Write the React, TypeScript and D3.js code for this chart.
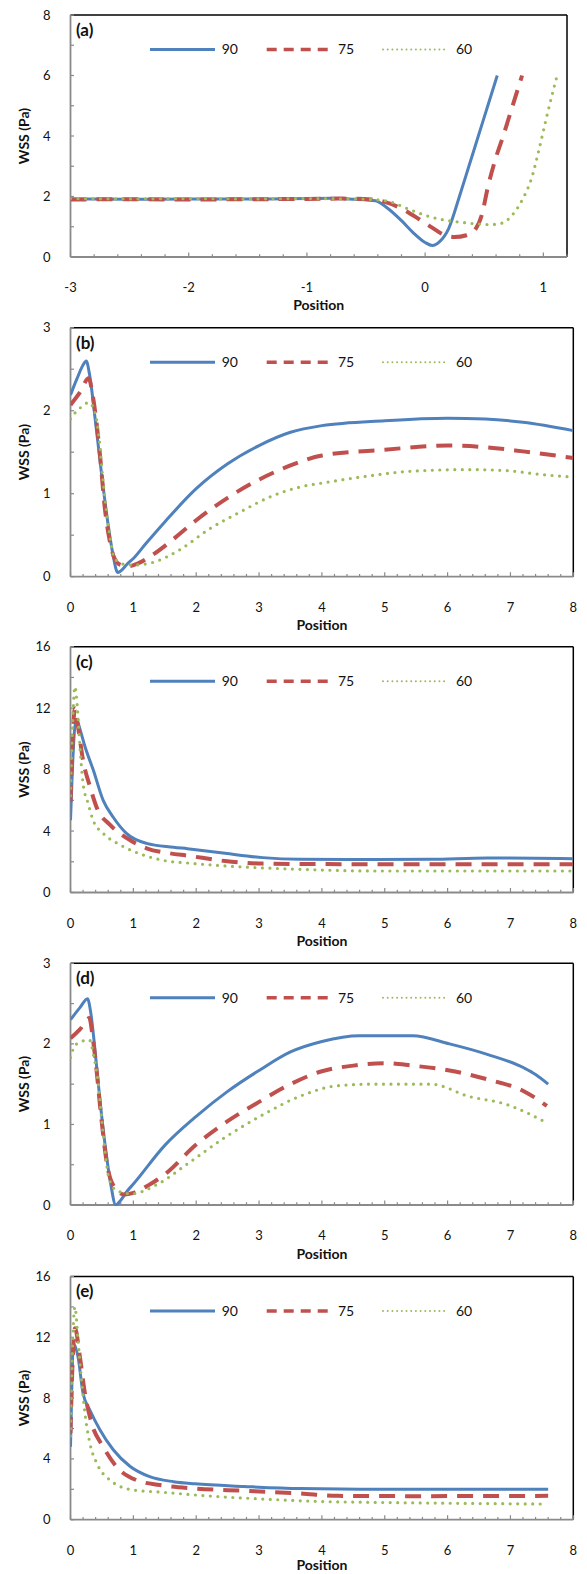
import React from 'react';
import * as d3 from 'd3';

type Pt = [number, number];

// ---------------- DATA ----------------
const seriesNames = ['90', '75', '60'];
const panelLabels = ['(a)', '(b)', '(c)', '(d)', '(e)'];
const xDomains: [number, number][] = [[-3, 1.2], [0, 8], [0, 8], [0, 8], [0, 8]];
const yMaxes = [8, 3, 16, 3, 16];
const yMajorSteps = [2, 1, 4, 1, 4];
const yMinorSteps = [1, 0.5, 2, 0.5, 2];
const xMajorStep = 1;
const xMinorStep = 0.2;

const a90: Pt[] = [[-3, 1.92], [-2.5, 1.91], [-2, 1.92], [-1.5, 1.92], [-1, 1.93], [-0.8, 1.94], [-0.6, 1.91], [-0.42, 1.86], [-0.32, 1.62], [-0.2, 1.2], [-0.1, 0.8], [0, 0.48], [0.06, 0.38], [0.12, 0.5], [0.2, 0.95], [0.29, 2.0], [0.37, 3.0], [0.45, 4.0], [0.53, 5.0], [0.61, 6.0]];
const a75: Pt[] = [[-3, 1.9], [-2.5, 1.91], [-2, 1.9], [-1.5, 1.91], [-1, 1.92], [-0.7, 1.93], [-0.45, 1.9], [-0.35, 1.83], [-0.2, 1.6], [-0.05, 1.25], [0.06, 0.97], [0.15, 0.75], [0.25, 0.66], [0.35, 0.72], [0.43, 0.95], [0.48, 1.4], [0.53, 2.3], [0.6, 3.3], [0.66, 4.0], [0.74, 5.0], [0.82, 6.0]];
const a60: Pt[] = [[-3, 1.93], [-2.5, 1.92], [-2, 1.93], [-1.5, 1.92], [-1, 1.93], [-0.6, 1.92], [-0.45, 1.9], [-0.3, 1.83], [-0.15, 1.6], [0, 1.38], [0.15, 1.23], [0.3, 1.15], [0.45, 1.09], [0.55, 1.07], [0.65, 1.12], [0.75, 1.45], [0.83, 1.95], [0.9, 2.6], [0.96, 3.5], [1.02, 4.5], [1.07, 5.3], [1.12, 6.05]];

const b90: Pt[] = [[0, 2.19], [0.1, 2.38], [0.2, 2.55], [0.25, 2.6], [0.3, 2.45], [0.4, 1.85], [0.5, 1.2], [0.6, 0.62], [0.68, 0.25], [0.75, 0.05], [0.8, 0.07], [0.9, 0.15], [1.0, 0.22], [1.2, 0.4], [1.5, 0.66], [2.0, 1.06], [2.5, 1.36], [3.0, 1.58], [3.5, 1.74], [4.0, 1.82], [5.0, 1.88], [6.0, 1.91], [6.6, 1.9], [7.2, 1.86], [8.0, 1.76]];
const b75: Pt[] = [[0, 2.07], [0.15, 2.22], [0.29, 2.39], [0.35, 2.2], [0.46, 1.54], [0.55, 0.8], [0.62, 0.45], [0.7, 0.22], [0.8, 0.14], [0.92, 0.125], [1.1, 0.17], [1.3, 0.26], [1.6, 0.43], [2.0, 0.68], [2.5, 0.95], [3.0, 1.17], [3.5, 1.34], [4.0, 1.46], [5.0, 1.53], [6.0, 1.58], [6.6, 1.56], [7.2, 1.51], [8.0, 1.43]];
const b60: Pt[] = [[0, 1.9], [0.08, 1.98], [0.2, 2.06], [0.29, 2.1], [0.4, 1.95], [0.45, 1.7], [0.52, 1.14], [0.61, 0.58], [0.7, 0.22], [0.85, 0.15], [1.0, 0.14], [1.3, 0.17], [1.75, 0.33], [2.2, 0.57], [2.7, 0.78], [3.2, 0.97], [3.65, 1.08], [4.1, 1.14], [4.8, 1.22], [5.4, 1.27], [6.3, 1.29], [6.9, 1.28], [7.5, 1.23], [8.0, 1.2]];

const c90: Pt[] = [[0, 4.7], [0.03, 8.0], [0.07, 10.8], [0.1, 11.2], [0.16, 10.5], [0.23, 9.5], [0.36, 8.0], [0.52, 6.0], [0.68, 4.9], [0.89, 3.85], [1.21, 3.2], [1.64, 2.95], [1.86, 2.85], [2.46, 2.55], [3.06, 2.27], [3.65, 2.16], [4.84, 2.14], [5.74, 2.16], [6.63, 2.25], [8.0, 2.2]];
const c75: Pt[] = [[0, 5.9], [0.03, 9.5], [0.07, 12.0], [0.12, 10.8], [0.2, 8.6], [0.31, 6.9], [0.42, 5.5], [0.63, 4.4], [0.95, 3.4], [1.21, 2.88], [1.58, 2.55], [1.86, 2.4], [2.46, 2.05], [3.06, 1.88], [4.84, 1.84], [8.0, 1.84]];
const c60: Pt[] = [[0, 6.3], [0.03, 10.5], [0.07, 13.4], [0.11, 12.0], [0.15, 9.5], [0.2, 7.1], [0.28, 5.8], [0.36, 4.7], [0.52, 3.85], [0.79, 3.1], [1.16, 2.44], [1.53, 2.05], [1.86, 1.92], [2.46, 1.73], [3.65, 1.51], [4.84, 1.4], [8.0, 1.4]];

const d90: Pt[] = [[0, 2.3], [0.15, 2.45], [0.27, 2.56], [0.32, 2.4], [0.38, 2.0], [0.47, 1.29], [0.55, 0.75], [0.64, 0.26], [0.72, 0.0], [0.8, 0.06], [0.91, 0.18], [1.0, 0.26], [1.5, 0.74], [2.0, 1.1], [2.5, 1.41], [3.0, 1.67], [3.5, 1.9], [4.0, 2.03], [4.6, 2.1], [5.44, 2.1], [6.03, 2.0], [6.63, 1.87], [7.22, 1.7], [7.4, 1.62], [7.6, 1.5]];
const d75: Pt[] = [[0, 2.07], [0.15, 2.18], [0.3, 2.32], [0.35, 2.1], [0.4, 1.78], [0.49, 1.08], [0.58, 0.51], [0.67, 0.26], [0.85, 0.13], [1.0, 0.15], [1.25, 0.25], [1.5, 0.38], [2.0, 0.75], [2.5, 1.04], [3.0, 1.28], [3.5, 1.5], [4.0, 1.66], [4.5, 1.73], [5.0, 1.76], [5.44, 1.73], [6.03, 1.67], [6.63, 1.56], [7.22, 1.41], [7.58, 1.23]];
const d60: Pt[] = [[0, 1.83], [0.08, 1.99], [0.3, 2.05], [0.37, 1.85], [0.43, 1.58], [0.52, 0.88], [0.61, 0.34], [0.73, 0.18], [0.97, 0.14], [1.39, 0.26], [1.86, 0.51], [2.46, 0.84], [3.06, 1.12], [3.65, 1.35], [4.25, 1.48], [4.84, 1.5], [5.74, 1.5], [6.33, 1.35], [6.93, 1.25], [7.58, 1.02]];

const e90: Pt[] = [[0, 4.8], [0.02, 8.5], [0.045, 11.6], [0.12, 10.7], [0.2, 8.3], [0.31, 7.2], [0.47, 5.9], [0.68, 4.6], [0.95, 3.5], [1.26, 2.83], [1.64, 2.5], [1.98, 2.36], [2.76, 2.19], [3.65, 2.05], [4.84, 2.01], [7.6, 2.01]];
const e75: Pt[] = [[0, 5.7], [0.03, 10.0], [0.07, 12.6], [0.15, 10.7], [0.23, 8.3], [0.34, 6.3], [0.52, 4.8], [0.73, 3.5], [1.05, 2.6], [1.42, 2.28], [1.98, 2.05], [2.76, 1.9], [3.65, 1.73], [4.25, 1.57], [5.44, 1.55], [7.6, 1.57]];
const e60: Pt[] = [[0, 5.5], [0.03, 11.0], [0.07, 14.0], [0.12, 11.8], [0.18, 9.0], [0.23, 7.0], [0.31, 5.0], [0.42, 3.7], [0.63, 2.6], [1.0, 1.95], [1.42, 1.82], [2.16, 1.57], [3.06, 1.36], [3.95, 1.2], [4.84, 1.14], [7.58, 1.03]];

const panelSeries: Pt[][][] = [
  [a90, a75, a60],
  [b90, b75, b60],
  [c90, c75, c60],
  [d90, d75, d60],
  [e90, e75, e60],
];

// ---------------- LAYOUT / STYLE ----------------
const W = 587;
const H = 1574;
const LEFT = 70.5;
const layout = [
  { top: 15, bottom: 257, right: 567, posOff: 48 },
  { top: 327.7, bottom: 576.7, right: 573.3, posOff: 48.3 },
  { top: 646.7, bottom: 892.5, right: 573.3, posOff: 49 },
  { top: 963.3, bottom: 1205, right: 573.3, posOff: 49.3 },
  { top: 1276.5, bottom: 1519.7, right: 573.3, posOff: 45.5 },
];
const FONT = "Lato, 'Open Sans', 'Liberation Sans', sans-serif";
const colors = ['#4F81BD', '#C0504D', '#9BBB59'];
const plotStyles = [
  { w: 3, dash: undefined as string | undefined, cap: 'butt' },
  { w: 4, dash: '16,10', cap: 'butt' },
  { w: 3.2, dash: '0,7.5', cap: 'round' },
];
const legendStyles = [
  { w: 3, dash: undefined as string | undefined, cap: 'butt' },
  { w: 3.5, dash: '10,7', cap: 'butt' },
  { w: 2, dash: '0,4.7', cap: 'round' },
];
const legendLines = [[150, 215], [266.7, 329], [383, 447]];
const legendTextX = [221.7, 338, 456];

function rangeInc(a: number, b: number, s: number) {
  const n = Math.round((b - a) / s);
  return d3.range(n + 1).map((i) => +(a + i * s).toFixed(6));
}

function Panel({ idx }: { idx: number }) {
  const L = layout[idx];
  const x = d3.scaleLinear().domain(xDomains[idx]).range([LEFT, L.right]);
  const y = d3.scaleLinear().domain([0, yMaxes[idx]]).range([L.bottom, L.top]);
  const line = d3
    .line<Pt>()
    .x((d) => x(d[0]))
    .y((d) => y(d[1]))
    .curve(d3.curveMonotoneX);
  const [x0, x1] = xDomains[idx];
  const xMinor = rangeInc(x0, x1, xMinorStep);
  const xMajor = rangeInc(Math.ceil(x0), Math.floor(x1), xMajorStep);
  const yMinor = rangeInc(0, yMaxes[idx], yMinorSteps[idx]);
  const yMajor = rangeInc(0, yMaxes[idx], yMajorSteps[idx]);
  const clipId = `clip-${idx}`;
  const legY = L.top + 34.5;
  const axisGray = '#8a8a8a';
  return (
    <g>
      <defs>
        <clipPath id={clipId}>
          <rect x={LEFT} y={L.top - 3} width={L.right - LEFT} height={L.bottom - L.top + 4} />
        </clipPath>
      </defs>
      <line x1={LEFT} x2={L.right} y1={L.top} y2={L.top} stroke="#000" strokeWidth={1.5} />
      <line x1={L.right} x2={L.right} y1={L.top} y2={L.bottom} stroke="#000" strokeWidth={1.5} />
      {xMinor.map((v) => (
        <line key={'xm' + v} x1={x(v)} x2={x(v)} y1={L.bottom} y2={L.bottom - (Math.abs(v - Math.round(v)) < 1e-6 ? 4.5 : 2.8)} stroke={axisGray} strokeWidth={1.2} />
      ))}
      {yMinor.map((v) => (
        <line key={'ym' + v} x1={LEFT} x2={LEFT + 3.5} y1={y(v)} y2={y(v)} stroke={axisGray} strokeWidth={1.2} />
      ))}
      <line x1={LEFT} x2={LEFT} y1={L.top} y2={L.bottom} stroke={axisGray} strokeWidth={1.8} />
      <line x1={LEFT} x2={L.right} y1={L.bottom} y2={L.bottom} stroke={axisGray} strokeWidth={1.8} />
      {yMajor.map((v) => (
        <text key={'yl' + v} x={LEFT - 20} y={y(v)} dy="0.35em" textAnchor="end" fontFamily={FONT} fontSize={13} fill="#111">
          {String(v)}
        </text>
      ))}
      {xMajor.map((v) => (
        <text key={'xl' + v} x={x(v)} y={L.bottom + 30.5} dy="0.35em" textAnchor="middle" fontFamily={FONT} fontSize={13} fill="#111">
          {v < 0 ? '-' + Math.abs(v) : String(v)}
        </text>
      ))}
      <text x={(LEFT + L.right) / 2} y={L.bottom + L.posOff} dy="0.35em" textAnchor="middle" fontFamily={FONT} fontSize={14} fontWeight="bold" fill="#111">
        Position
      </text>
      <text transform={`translate(24.5,${(L.top + L.bottom) / 2}) rotate(-90)`} dy="0.35em" textAnchor="middle" fontFamily={FONT} fontSize={14} fontWeight="bold" fill="#111">
        WSS (Pa)
      </text>
      <text x={76} y={L.top + 15} dy="0.35em" fontFamily={FONT} fontSize={17} fontWeight="bold" fill="#111">
        {panelLabels[idx]}
      </text>
      {seriesNames.map((name, i) => (
        <g key={'leg' + i}>
          <line x1={legendLines[i][0]} x2={legendLines[i][1]} y1={legY} y2={legY} stroke={colors[i]} strokeWidth={legendStyles[i].w} strokeDasharray={legendStyles[i].dash} strokeLinecap={legendStyles[i].cap as any} />
          <text x={legendTextX[i]} y={legY} dy="0.35em" fontFamily={FONT} fontSize={14} fill="#111">
            {name}
          </text>
        </g>
      ))}
      <g clipPath={`url(#${clipId})`}>
        {panelSeries[idx].map((s, i) => (
          <path key={'s' + i} d={line(s) || ''} fill="none" stroke={colors[i]} strokeWidth={plotStyles[i].w} strokeDasharray={plotStyles[i].dash} strokeLinecap={plotStyles[i].cap as any} strokeLinejoin="round" />
        ))}
      </g>
    </g>
  );
}

export default function App() {
  return (
    <svg width={W} height={H} viewBox={`0 0 ${W} ${H}`} style={{ position: 'absolute', left: 0, top: 0, background: '#fff' }}>
      <rect x={0} y={0} width={W} height={H} fill="#fff" />
      {layout.map((_, i) => (
        <Panel key={i} idx={i} />
      ))}
    </svg>
  );
}
